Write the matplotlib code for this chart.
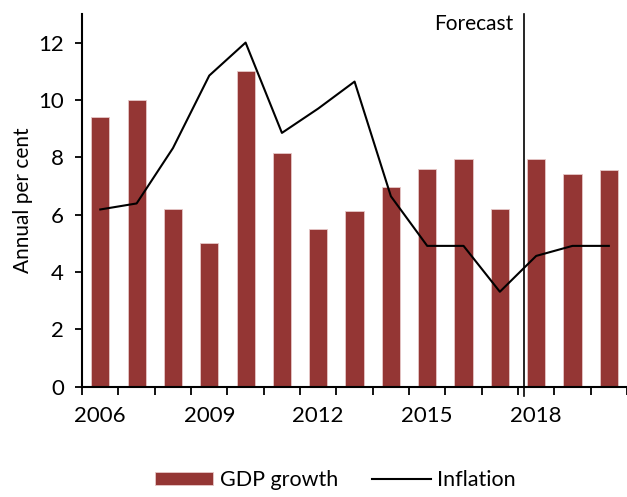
"""GDP growth and inflation, annual per cent, with forecast marker."""

from matplotlib import pyplot as plt
import numpy as np

plt.rcParams['font.family'] = ['Lato', 'DejaVu Sans']

years = list(range(2006, 2021))
gdp_growth = [9.4, 10.0, 6.2, 5.0, 11.0, 8.15, 5.5, 6.13, 6.97, 7.6, 7.95, 6.2, 7.95, 7.4, 7.55]
inflation = [6.18, 6.39, 8.32, 10.85, 12.0, 8.85, 9.7, 10.64, 6.64, 4.91, 4.91, 3.31, 4.56, 4.91, 4.91]
forecast_pos = 11.66   # position of the forecast divider in bar units

x = np.arange(len(years))

fig = plt.figure(figsize=(6.27, 4.97), dpi=100)
ax = fig.add_axes([0.131, 0.222, 0.869, 0.75])

bars = ax.bar(x, gdp_growth, width=0.5, color='#943634', edgecolor='#e6c8c8', linewidth=0.6,
              label='GDP growth', zorder=2)
line, = ax.plot(x, inflation, color='black', linewidth=1.5, label='Inflation', zorder=3)

ax.axvline(forecast_pos, color='black', linewidth=1.2, ymin=-0.025, clip_on=False, zorder=4)
ax.text(forecast_pos - 0.3, 12.65, 'Forecast', ha='right', va='center', fontsize=15)

ax.set_xlim(-0.5, len(years) - 0.5)
ax.set_ylim(0, 13)
ax.set_yticks(range(0, 13, 2))
ax.set_ylabel('Annual per cent', fontsize=15, labelpad=4)

# year labels under every third bar, tick marks at the bar boundaries
ax.set_xticks(x[::3])
ax.set_xticklabels([str(y) for y in years[::3]])
ax.set_xticks(np.arange(-0.5, len(years)), minor=True)
ax.tick_params(axis='x', which='major', length=0, pad=14, labelsize=16)
ax.tick_params(axis='x', which='minor', length=6, width=1.3, direction='out')
ax.tick_params(axis='y', length=5, width=1.3, labelsize=16, pad=8)

for side in ['top', 'right']:
    ax.spines[side].set_visible(False)
for side in ['left', 'bottom']:
    ax.spines[side].set_linewidth(1.5)

fig.legend([bars, line], ['GDP growth', 'Inflation'], loc='lower center',
           bbox_to_anchor=(0.535, -0.025), ncol=2, frameon=False,
           fontsize=15.5, handlelength=2.7, handleheight=0.6, handletextpad=0.3,
           columnspacing=1.6)

fig.savefig('out.png', dpi=100)
